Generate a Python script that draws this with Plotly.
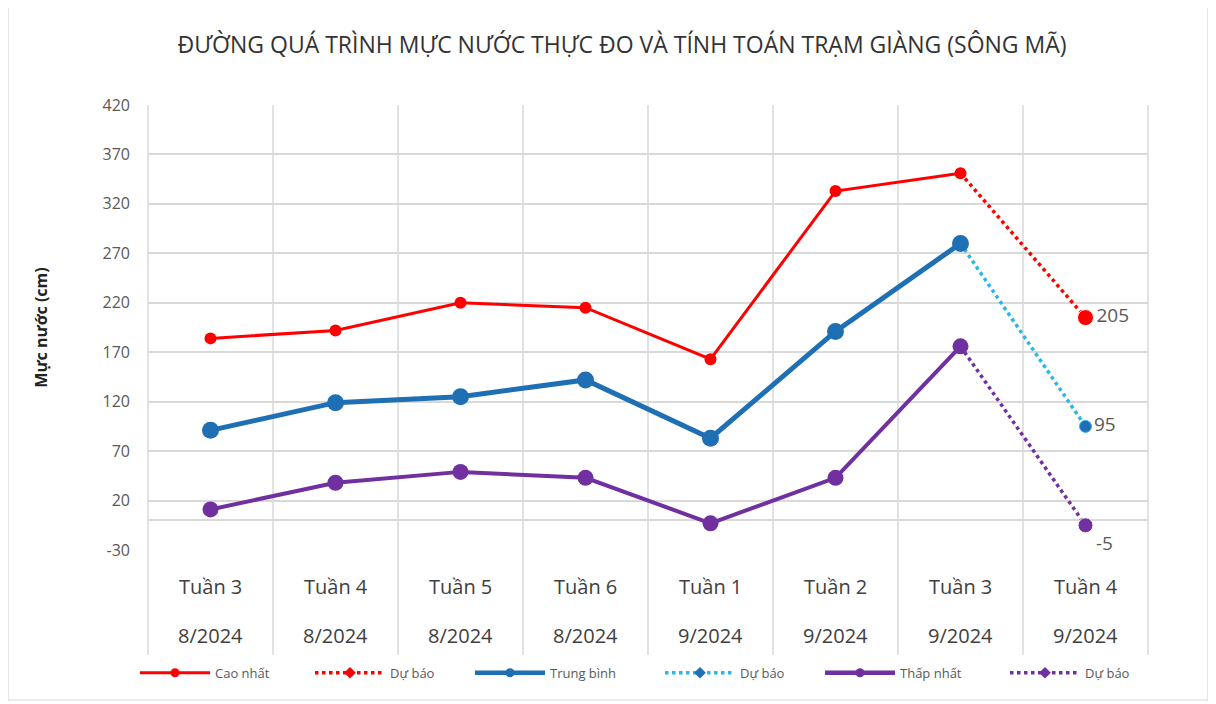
import plotly.graph_objects as go

weeks = ["Tuần 3", "Tuần 4", "Tuần 5", "Tuần 6", "Tuần 1", "Tuần 2", "Tuần 3", "Tuần 4"]
months = ["8/2024", "8/2024", "8/2024", "8/2024", "9/2024", "9/2024", "9/2024", "9/2024"]

cao_nhat = [184, 192, 220, 215, 163, 333, 351, None]
cao_du_bao = [None, None, None, None, None, None, 351, 205]
trung_binh = [91, 119, 125, 142, 83, 191, 280, None]
tb_du_bao = [None, None, None, None, None, None, 280, 95]
thap_nhat = [11, 38, 49, 43, -3, 43, 176, None]
thap_du_bao = [None, None, None, None, None, None, 176, -5]

y_ticks = [-30, 20, 70, 120, 170, 220, 270, 320, 370, 420]

legend_names = ["Cao nhất", "Dự báo", "Trung bình", "Dự báo", "Thấp nhất", "Dự báo"]

x = list(range(len(weeks)))
n = len(weeks)

RED = "#FF0000"
BLUE = "#1F6FB5"
CYAN = "#2BB5E8"
PURPLE = "#7030A0"
FONT = "Open Sans"

fig = go.Figure()

def fc_sizes(vals, s):
    return [s if (v is not None and i == len(vals) - 1) else 0 for i, v in enumerate(vals)]

def fc_text(vals):
    return ["" if i < len(vals) - 1 else str(v) for i, v in enumerate(vals)]

# forecast traces first (drawn beneath the observed markers)
fig.add_trace(go.Scatter(x=x, y=cao_du_bao, name=legend_names[1], mode="lines+markers+text", showlegend=False,
                         line=dict(color=RED, width=3.5, dash="dot"),
                         marker=dict(size=fc_sizes(cao_du_bao, 16), color=RED, opacity=1),
                         text=fc_text(cao_du_bao), textposition="middle right",
                         textfont=dict(size=19, color="#595959", family=FONT)))
fig.add_trace(go.Scatter(x=x, y=tb_du_bao, name=legend_names[3], mode="lines+markers+text", showlegend=False,
                         line=dict(color=CYAN, width=3.5, dash="dot"),
                         marker=dict(size=fc_sizes(tb_du_bao, 12), color=BLUE, opacity=1),
                         text=fc_text(tb_du_bao), textposition="middle right",
                         textfont=dict(size=19, color="#595959", family=FONT)))
fig.add_trace(go.Scatter(x=x, y=thap_du_bao, name=legend_names[5], mode="lines+markers+text", showlegend=False,
                         line=dict(color=PURPLE, width=3.5, dash="dot"),
                         marker=dict(size=fc_sizes(thap_du_bao, 15), color=PURPLE, opacity=1),
                         text=fc_text(thap_du_bao), textposition="bottom right",
                         textfont=dict(size=19, color="#595959", family=FONT)))

# observed traces
fig.add_trace(go.Scatter(x=x, y=cao_nhat, name=legend_names[0], mode="lines+markers", showlegend=False,
                         line=dict(color=RED, width=3), marker=dict(size=12, color=RED)))
fig.add_trace(go.Scatter(x=x, y=trung_binh, name=legend_names[2], mode="lines+markers", showlegend=False,
                         line=dict(color=BLUE, width=5), marker=dict(size=17, color=BLUE)))
fig.add_trace(go.Scatter(x=x, y=thap_nhat, name=legend_names[4], mode="lines+markers", showlegend=False,
                         line=dict(color=PURPLE, width=4), marker=dict(size=16, color=PURPLE)))

# legend-only entries, each in its own legend box
leg_styles = [
    (RED, RED, 3, "solid"),
    (RED, RED, 3.5, "dot"),
    (BLUE, BLUE, 4.5, "solid"),
    (CYAN, BLUE, 3.5, "dot"),
    (PURPLE, PURPLE, 4.5, "solid"),
    (PURPLE, PURPLE, 3.5, "dot"),
]
leg_x = [-0.013, 0.162, 0.322, 0.512, 0.672, 0.857]
for k, (lc, mc, lw, dash) in enumerate(leg_styles):
    lid = "legend" if k == 0 else f"legend{k + 1}"
    fig.add_trace(go.Scatter(x=[None], y=[None], name=legend_names[k], mode="lines+markers",
                             legend=lid, showlegend=True,
                             line=dict(color=lc, width=lw, dash=dash),
                             marker=dict(size=9, color=mc, symbol="diamond" if dash == "dot" else "circle")))

# category labels below the plot (two rows)
for i in range(n):
    fig.add_annotation(x=x[i], y=-0.082, xref="x", yref="paper", text=weeks[i],
                       showarrow=False, yanchor="middle",
                       font=dict(size=20, color="#404040", family=FONT))
    fig.add_annotation(x=x[i], y=-0.192, xref="x", yref="paper", text=months[i],
                       showarrow=False, yanchor="middle",
                       font=dict(size=20, color="#404040", family=FONT))

# vertical dividers of the category table
for i in range(n + 1):
    fig.add_shape(type="line", xref="paper", yref="paper", x0=i / n, x1=i / n,
                  y0=1, y1=-0.236, line=dict(color="#D9D9D9", width=1.5), layer="below")

# outer chart border
fig.add_shape(type="rect", xref="paper", yref="paper",
              x0=-140 / 1000, x1=1 + 60 / 1000, y0=-150 / 445, y1=1 + 100 / 445,
              line=dict(color="#D9D9D9", width=1.2))

legend_common = dict(orientation="h", xanchor="left", y=-0.276, yanchor="middle",
                     font=dict(size=13, color="#595959", family=FONT),
                     itemwidth=70, bgcolor="rgba(0,0,0,0)")

layout_legends = {}
for k in range(len(leg_x)):
    lid = "legend" if k == 0 else f"legend{k + 1}"
    layout_legends[lid] = dict(legend_common, x=leg_x[k])

fig.update_layout(
    width=1216, height=704,
    margin=dict(l=140, r=76, t=97, b=162, autoexpand=False),
    paper_bgcolor="white", plot_bgcolor="white",
    font=dict(family=FONT, color="#595959"),
    title=dict(text="ĐƯỜNG QUÁ TRÌNH MỰC NƯỚC THỰC ĐO VÀ TÍNH TOÁN TRẠM GIÀNG (SÔNG MÃ)",
               x=0.505, xanchor="center", y=0.947, yanchor="middle",
               font=dict(size=23, color="#333333", family=FONT)),
    xaxis=dict(range=[-0.5, n - 0.5], showticklabels=False, showgrid=False,
               zeroline=False, showline=False, ticks=""),
    yaxis=dict(range=[y_ticks[0], y_ticks[-1]], tickmode="array", tickvals=y_ticks,
               ticktext=[str(v) for v in y_ticks], showgrid=True,
               gridcolor="#D9D9D9", gridwidth=1.5, zeroline=True,
               zerolinecolor="#D9D9D9", zerolinewidth=1.5,
               tickfont=dict(size=16, color="#595959", family=FONT),
               ticks="", ticklabelstandoff=17,
               title=dict(text="<b>Mực nước (cm)</b>", standoff=50,
                          font=dict(size=16, color="#222222", family=FONT))),
    showlegend=True,
    **layout_legends,
)

fig.write_html("out.html")
